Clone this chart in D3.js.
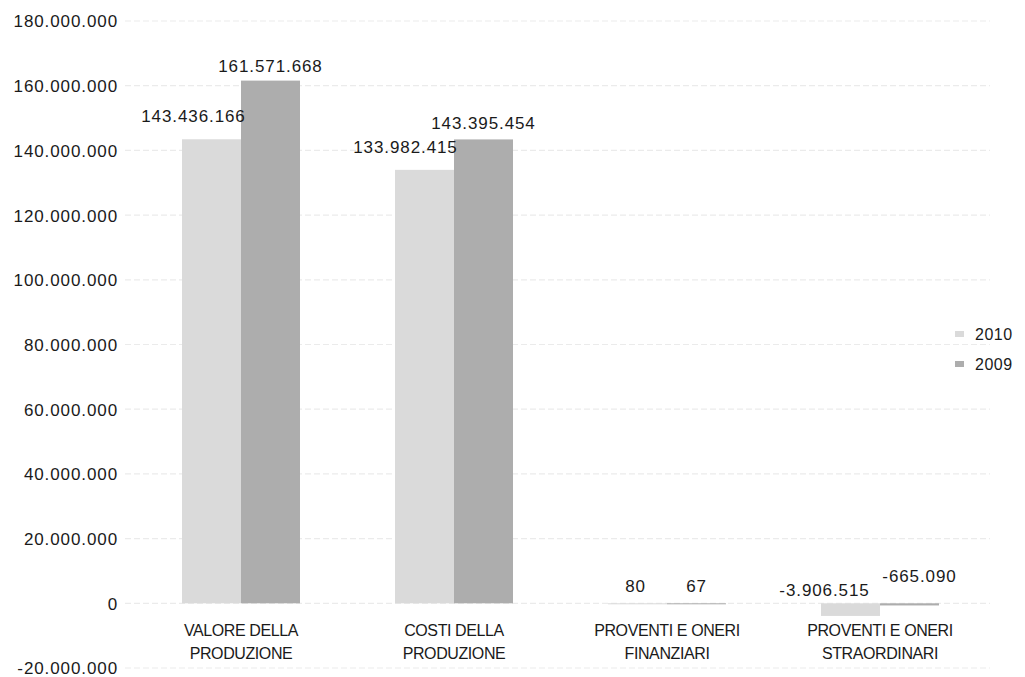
<!DOCTYPE html>
<html><head><meta charset="utf-8">
<script src="https://cdn.jsdelivr.net/npm/d3@7"></script>
<style>
body{margin:0;background:#fff;}
text{font-family:"Liberation Sans",Arial,sans-serif;fill:#1a1a1a;}
</style></head>
<body>
<svg id="c" width="1025" height="677"></svg>
<script>
const categories = [["VALORE DELLA","PRODUZIONE"],["COSTI DELLA","PRODUZIONE"],["PROVENTI E ONERI","FINANZIARI"],["PROVENTI E ONERI","STRAORDINARI"]];
const series = ["2010","2009"];
const values2010 = [143436166, 133982415, 80, -3906515];
const values2009 = [161571668, 143395454, 67, -665090];
const labels2010 = ["143.436.166","133.982.415","80","-3.906.515"];
const labels2009 = ["161.571.668","143.395.454","67","-665.090"];
const yTicks = [-20000000,0,20000000,40000000,60000000,80000000,100000000,120000000,140000000,160000000,180000000];
const yTickLabels = ["-20.000.000","0","20.000.000","40.000.000","60.000.000","80.000.000","100.000.000","120.000.000","140.000.000","160.000.000","180.000.000"];

const colors = {"2010":"#dadada","2009":"#adadad"};
const svg = d3.select("#c");
const catKeys = categories.map((c,i)=>i);
const x = d3.scaleBand().domain(catKeys).range([134.5,986.5]).paddingInner(0.446).paddingOuter(0.223);
const xs = d3.scaleBand().domain(series).range([0,x.bandwidth()]);
const y = d3.scaleLinear().domain([-20000000,180000000]).range([668,21]);

// grid
svg.append("g").selectAll("line").data(yTicks).join("line")
  .attr("x1",125).attr("x2",990).attr("y1",d=>y(d)).attr("y2",d=>y(d))
  .attr("stroke","#ebebeb").attr("stroke-width",1.2).attr("stroke-dasharray","6,3");

// y axis labels
const yAxis = d3.axisLeft(y).tickValues(yTicks).tickSize(0).tickFormat((d,i)=>yTickLabels[i]);
const ga = svg.append("g").attr("transform","translate(118,0)").call(yAxis);
ga.select(".domain").remove();
ga.selectAll("text").attr("font-size",17).attr("letter-spacing","0.9px").attr("dy","0.35em").attr("x",0)
  .style("font-family","Liberation Sans, Arial, sans-serif").attr("fill","#1a1a1a");

const data = [];
catKeys.forEach(i=>{
  data.push({c:i,s:"2010",v:values2010[i],l:labels2010[i]});
  data.push({c:i,s:"2009",v:values2009[i],l:labels2009[i]});
});

svg.append("g").selectAll("rect").data(data).join("rect")
  .attr("x",d=>x(d.c)+xs(d.s)).attr("width",xs.bandwidth())
  .attr("y",d=>y(Math.max(0,d.v))).attr("height",d=>Math.max(1,Math.abs(y(d.v)-y(0))))
  .attr("fill",d=>colors[d.s]);

// value labels
const dxMap = {"2010":[-18,-19,-2,-26],"2009":[0,0,0,10]};
const dyMap = {"2010":[-17,-17,-11,-7],"2009":[-9,-10,-11,-21]};
svg.append("g").selectAll("text").data(data).join("text")
  .attr("x",d=>x(d.c)+xs(d.s)+xs.bandwidth()/2+dxMap[d.s][d.c])
  .attr("y",d=>y(Math.max(0,d.v))+dyMap[d.s][d.c])
  .attr("text-anchor","middle").attr("font-size",17).attr("letter-spacing","0.9px")
  .text(d=>d.l);

// category labels
const cg = svg.append("g").selectAll("text").data(catKeys).join("text")
  .attr("x",d=>x(d)+x.bandwidth()/2).attr("y",636)
  .attr("text-anchor","middle").attr("font-size",16).attr("letter-spacing","-0.4px");
cg.each(function(d){
  const t=d3.select(this);
  categories[d].forEach((line,k)=>t.append("tspan").attr("x",x(d)+x.bandwidth()/2).attr("dy",k?23:0).text(line));
});

// legend
const lg = svg.append("g").selectAll("g").data(series).join("g")
  .attr("transform",(d,i)=>`translate(955,${334+i*30})`);
lg.append("rect").attr("x",0).attr("y",-3).attr("width",9).attr("height",6).attr("fill",d=>colors[d]);
lg.append("text").attr("x",20).attr("dy","0.35em").attr("font-size",16).attr("letter-spacing","0.5px").text(d=>d);
</script>
</body></html>
